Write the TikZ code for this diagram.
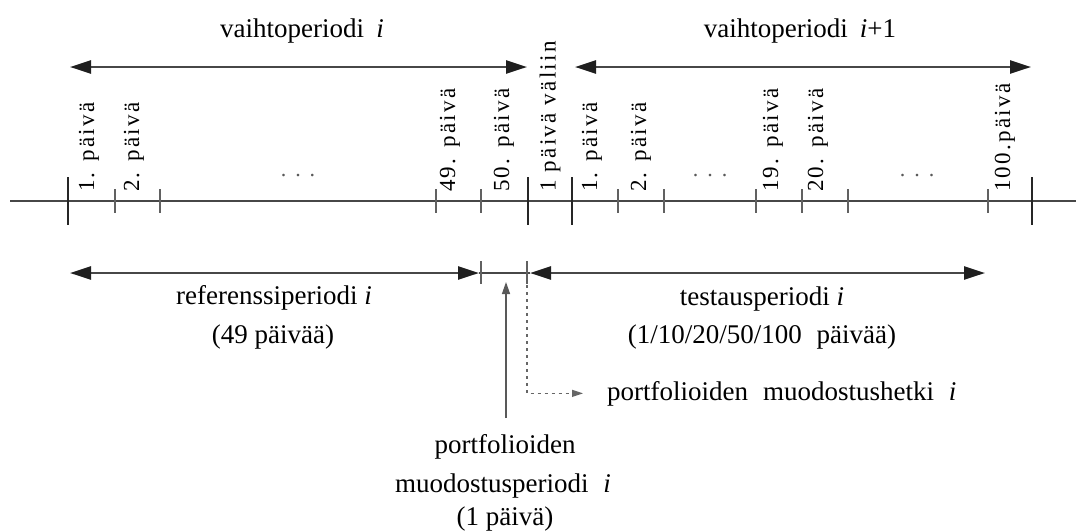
\documentclass[tikz,border=0pt]{standalone}
\usepackage{fontspec}
\setmainfont{Liberation Serif}
\newfontfamily\dayfont[LetterSpace=10]{Liberation Serif}
\usetikzlibrary{arrows.meta}

\begin{document}
\begin{tikzpicture}[x=1pt,y=-1pt,
  big/.style={font=\fontsize{27}{32}\selectfont, inner sep=0pt, anchor=base},
  day/.style={font=\dayfont\fontsize{23}{26}\selectfont, rotate=90, anchor=west, inner sep=0pt},
  ellip/.style={font=\fontsize{22}{26}\selectfont, text=black!65, inner sep=0pt, anchor=base},
  axisline/.style={line width=1.6pt, draw=black!72},
  majortick/.style={line width=2.6pt, draw=black!85},
  minortick/.style={line width=1.3pt, draw=black!62},
  span/.style={line width=2.4pt, draw=black!72,
    {Triangle[length=21pt,width=13pt,fill=black!88,color=black!88]}-{Triangle[length=21pt,width=13pt,fill=black!88,color=black!88]}},
  plainline/.style={line width=2.4pt, draw=black!72},
  pointer/.style={line width=1.3pt, draw=black!65, -{Triangle[length=12pt,width=8pt]}},
  dotline/.style={line width=1.4pt, draw=black!60, dash pattern=on 3pt off 4pt,
    -{Triangle[length=11pt,width=7pt]}},
]
\useasboundingbox (0,0) rectangle (1076,531);

% ---- time axis with day ticks ----
\draw[axisline] (10,201) -- (1076,201);
\foreach \x in {68,528,572,1032}
  \draw[majortick] (\x,177) -- (\x,225);
\foreach \x in {115,160,436,481,618,664,756,802,848,988}
  \draw[minortick] (\x,189) -- (\x,213);

% ---- day labels ----
\node[day] (d1)  at (89,192)   {1. päivä};
\node[day] (d2)  at (134,192)  {2. päivä};
\node[day] (d49) at (450,192)  {49. päivä};
\node[day] (d50) at (504,192)  {50. päivä};
\node[day] (gap) at (550,192)  {1 päivä väliin};
\node[day] (e1)  at (592,192)  {1. päivä};
\node[day] (e2)  at (641,192)  {2. päivä};
\node[day] (e19) at (773,192)  {19. päivä};
\node[day] (e20) at (818,192)  {20. päivä};
\node[day] (e100) at (1005,192) {100.päivä};

\node[ellip] (dotsA) at (298,176) {.\hspace{9pt}.\hspace{9pt}.};
\node[ellip] (dotsB) at (710,176) {.\hspace{9pt}.\hspace{9pt}.};
\node[ellip] (dotsC) at (917,176) {.\hspace{9pt}.\hspace{9pt}.};

% ---- trading periods ----
\node[big] (vi)  at (302,37) {vaihtoperiodi\hspace{0.45em}\textit{i}};
\node[big] (vi1) at (800,37) {vaihtoperiodi\hspace{0.45em}\textit{i}+1};
\coordinate (vA) at (70,67);  \coordinate (vB) at (527,67);
\coordinate (wA) at (575,67); \coordinate (wB) at (1031,67);
\draw[span] (vA) -- (vB);
\draw[span] (wA) -- (wB);

% ---- reference / formation / test periods ----
\coordinate (rA) at (70,273);  \coordinate (rB) at (479,273);
\coordinate (tA) at (530,273); \coordinate (tB) at (985,273);
\draw[span] (rA) -- (rB);
\draw[plainline] (rB) -- (tA);
\draw[span] (tA) -- (tB);
\coordinate (fS) at (481,273); \coordinate (fE) at (527,273);
\draw[minortick] ([yshift=12pt]fS) -- ([yshift=-11pt]fS);
\draw[minortick] ([yshift=12pt]fE) -- ([yshift=-11pt]fE);

\node[big] (ref1) at (274,304) {referenssiperiodi \textit{i}};
\node[big] (ref2) at (273,343) {(49 päivää)};
\node[big] (tst1) at (762,305) {testausperiodi \textit{i}};
\node[big] (tst2) at (762,343) {(1/10/20/50/100\hspace{0.3em} päivää)};

% formation moment
\node[big, anchor=base west] (pm) at (607,400)
  {portfolioiden\hspace{0.3em} muodostushetki\hspace{0.3em} \textit{i}};
\coordinate (mT) at (527,285);
\draw[dotline] (mT) |- ([xshift=-24pt]pm.west);

% formation period
\node[big] (fp1) at (505,453) {portfolioiden};
\node[big] (fp2) at (503,492) {muodostusperiodi\hspace{0.3em} \textit{i}};
\node[big] (fp3) at (505,525) {(1 päivä)};
\coordinate (uF) at (506,418);
\coordinate (uT) at (506,282);
\draw[pointer] (uF) -- (uT);
\end{tikzpicture}
\end{document}
